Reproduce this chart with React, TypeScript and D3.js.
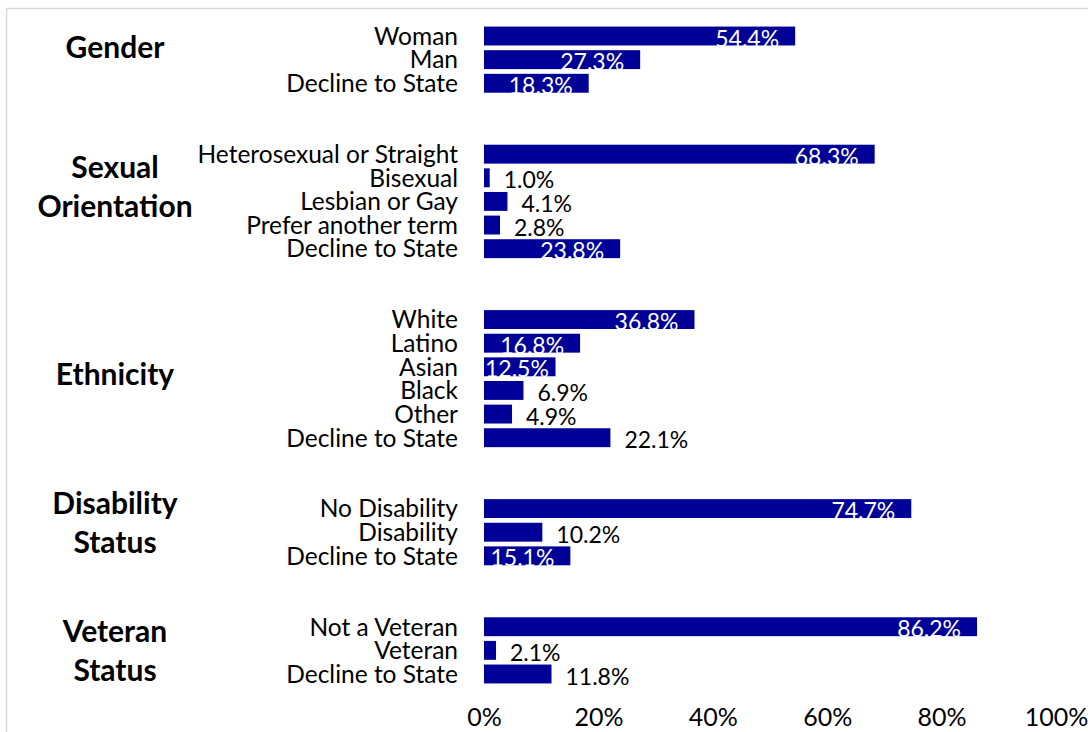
import React, { useEffect, useRef } from 'react';
import * as d3 from 'd3';

const groupNames = [['Gender'], ['Sexual', 'Orientation'], ['Ethnicity'], ['Disability', 'Status'], ['Veteran', 'Status']];
const genderLabels = ['Woman', 'Man', 'Decline to State'];
const genderValues = [54.4, 27.3, 18.3];
const orientationLabels = ['Heterosexual or Straight', 'Bisexual', 'Lesbian or Gay', 'Prefer another term', 'Decline to State'];
const orientationValues = [68.3, 1.0, 4.1, 2.8, 23.8];
const ethnicityLabels = ['White', 'Latino', 'Asian', 'Black', 'Other', 'Decline to State'];
const ethnicityValues = [36.8, 16.8, 12.5, 6.9, 4.9, 22.1];
const disabilityLabels = ['No Disability', 'Disability', 'Decline to State'];
const disabilityValues = [74.7, 10.2, 15.1];
const veteranLabels = ['Not a Veteran', 'Veteran', 'Decline to State'];
const veteranValues = [86.2, 2.1, 11.8];
// which value labels sit inside the bar (white) rather than after it (black)
const insideFlags = [
  [true, true, true],
  [true, false, false, false, true],
  [true, true, true, false, false, false],
  [true, false, true],
  [true, false, false],
];
const xTicks = [0, 20, 40, 60, 80, 100];

const W = 1088, H = 732;
const FONT = 'Lato, "Noto Sans", sans-serif';
const BAR = '#000099';

export default function App() {
  const svgRef = useRef<SVGSVGElement>(null);

  useEffect(() => {
    const svg = d3.select(svgRef.current);
    svg.selectAll('*').remove();

    const groups = [
      { labels: genderLabels, values: genderValues, nudge: -12 },
      { labels: orientationLabels, values: orientationValues, nudge: -15 },
      { labels: ethnicityLabels, values: ethnicityValues, nudge: -4 },
      { labels: disabilityLabels, values: disabilityValues, nudge: -10 },
      { labels: veteranLabels, values: veteranValues, nudge: 0 },
    ];

    // rows, with two empty slots between groups
    const rows: { key: string; label: string; value: number; inside: boolean; g: number }[] = [];
    const keys: string[] = [];
    groups.forEach((grp, gi) => {
      if (gi > 0) keys.push(`gap-${gi}-a`, `gap-${gi}-b`);
      grp.labels.forEach((lab, i) => {
        const key = `${gi}-${i}`;
        rows.push({ key, label: lab, value: grp.values[i], inside: insideFlags[gi][i], g: gi });
        keys.push(key);
      });
    });

    const y = d3.scaleBand().domain(keys).range([24.2, 685.8]).paddingInner(0.2).paddingOuter(0.1);
    const x = d3.scaleLinear().domain([0, 100]).range([484, 1056]);

    svg.append('rect')
      .attr('x', 6.5).attr('y', 8.5).attr('width', W + 50).attr('height', H + 50)
      .attr('fill', '#fff').attr('stroke', '#d9d9d9').attr('stroke-width', 1.5);

    svg.append('g').selectAll('rect')
      .data(rows)
      .join('rect')
      .attr('x', x(0))
      .attr('y', d => y(d.key)!)
      .attr('width', d => x(d.value) - x(0))
      .attr('height', y.bandwidth())
      .attr('fill', BAR);

    // category labels
    svg.append('g').selectAll('text')
      .data(rows)
      .join('text')
      .attr('x', 458)
      .attr('y', d => y(d.key)! + y.bandwidth() / 2)
      .attr('dy', '0.36em')
      .attr('text-anchor', 'end')
      .style('font-family', FONT)
      .style('font-size', '24.5px')
      .attr('fill', '#000')
      .text(d => d.label);

    // value labels
    const vals = svg.append('g').selectAll('text')
      .data(rows)
      .join('text')
      .attr('y', d => y(d.key)! + y.bandwidth() / 2)
      .attr('dy', '0.46em')
      .style('font-family', FONT)
      .style('font-size', '23px')
      .attr('fill', d => (d.inside ? '#fff' : '#000'))
      .text(d => `${d.value.toFixed(1)}%`);

    vals.each(function (d) {
      const t = d3.select(this);
      if (d.inside) {
        const w = (this as SVGTextElement).getComputedTextLength();
        const end = Math.max(x(d.value) - 16, x(0) + w + 1);
        t.attr('x', end).attr('text-anchor', 'end');
      } else {
        t.attr('x', x(d.value) + 14).attr('text-anchor', 'start');
      }
    });

    // group titles
    groups.forEach((grp, gi) => {
      const first = y(`${gi}-0`)! + y.bandwidth() / 2;
      const last = y(`${gi}-${grp.labels.length - 1}`)! + y.bandwidth() / 2;
      const mid = (first + last) / 2 + grp.nudge;
      const lines = groupNames[gi];
      const lh = 39;
      const t = svg.append('text')
        .attr('x', 115)
        .attr('text-anchor', 'middle')
        .style('font-family', FONT)
        .style('font-size', '30px')
        .style('font-weight', 'bold')
        .attr('fill', '#000');
      lines.forEach((ln, li) => {
        t.append('tspan')
          .attr('x', 115)
          .attr('y', mid - ((lines.length - 1) * lh) / 2 + li * lh)
          .attr('dy', '0.36em')
          .text(ln);
      });
    });

    // x axis: labels only
    const axis = svg.append('g')
      .attr('transform', `translate(0,${y.range()[1]})`)
      .call(d3.axisBottom(x).tickValues(xTicks).tickSize(0).tickPadding(22).tickFormat(d => `${d}%`));
    axis.select('.domain').remove();
    axis.selectAll('text')
      .style('font-family', FONT)
      .style('font-size', '25px')
      .attr('fill', '#000');
  }, []);

  return (
    <svg
      ref={svgRef}
      width={W}
      height={H}
      style={{ position: 'absolute', left: 0, top: 0, background: '#fff' }}
    />
  );
}
